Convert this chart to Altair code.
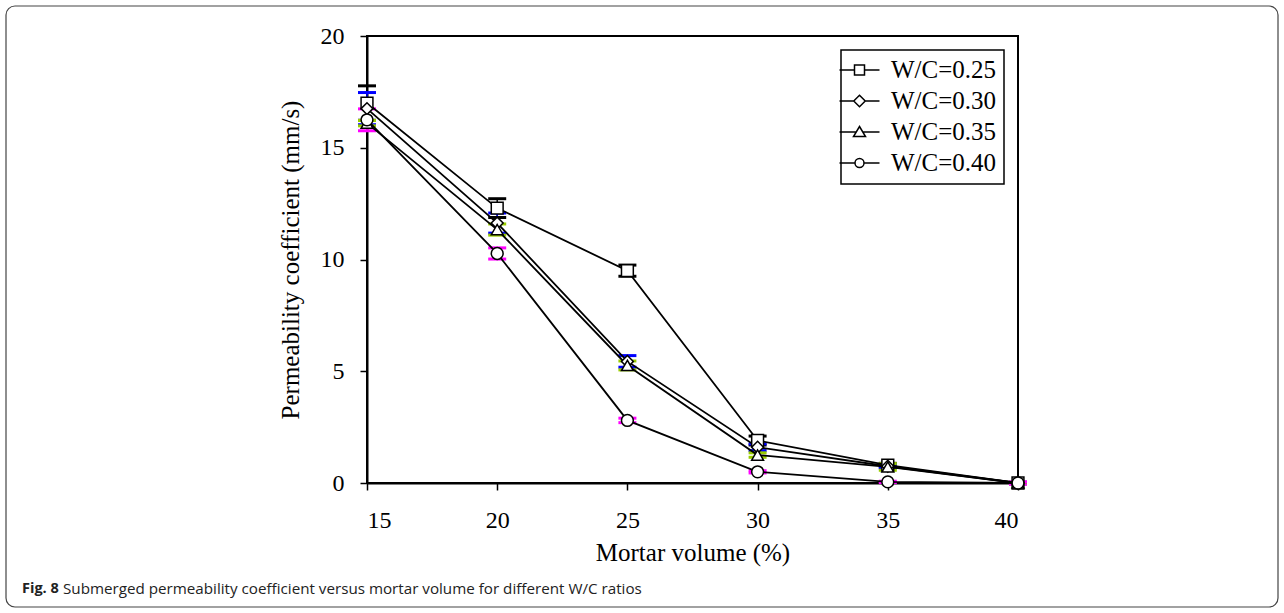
import altair as alt
import pandas as pd

mortar_volume = [15, 20, 25, 30, 35, 40]
series_names = ["W/C=0.25", "W/C=0.30", "W/C=0.35", "W/C=0.40"]

k_025 = [17.0, 12.3, 9.5, 1.9, 0.8, 0.0]
k_030 = [16.75, 11.63, 5.44, 1.6, 0.75, 0.0]
k_035 = [16.1, 11.34, 5.26, 1.25, 0.72, 0.0]
k_040 = [16.25, 10.27, 2.8, 0.5, 0.05, 0.0]

e_025 = [0.77, 0.42, 0.25, 0.2, 0.08, 0.03]
e_030 = [0.72, 0.45, 0.26, 0.15, 0.08, 0.03]
e_035 = [0.12, 0.25, 0.2, 0.1, 0.15, 0.03]
e_040 = [0.49, 0.25, 0.1, 0.05, 0.03, 0.05]

bar_colors = ["#000000", "#0000FF", "#99CC00", "#FF00FF"]
point_shapes = ["square", "diamond", "triangle-up", "circle"]
legend_shapes = [
    "M-5,0H-2M0,0H3M-2,-1H0V1H-2Z",
    "M-5,0H-2.15M0.15,0H3M-1,-1.15L0.15,0L-1,1.15L-2.15,0Z",
    "M-5,0H-1.7M-0.3,0H3M-1,-1.1L0.2,0.9H-2.2Z",
    "M-5,0H-1.9M-0.1,0H3M-0.1,0A0.9,0.9 0 1,1 -1.9,0A0.9,0.9 0 1,1 -0.1,0Z",
]

rows = []
for name, ks, es in zip(series_names, [k_025, k_030, k_035, k_040], [e_025, e_030, e_035, e_040]):
    for xv, kv, ev in zip(mortar_volume, ks, es):
        rows.append({"series": name, "x": xv, "k": kv, "lo": kv - ev, "hi": kv + ev})
df = pd.DataFrame(rows)

FONT = "Liberation Serif"

xs = alt.Scale(domain=[15, 40], nice=False)
ys = alt.Scale(domain=[0, 20], nice=False)
color_scale = alt.Scale(domain=series_names, range=bar_colors)

x_enc = alt.X("x:Q", scale=xs, title="Mortar volume (%)",
              axis=alt.Axis(values=mortar_volume, grid=False, labelFont=FONT, labelFontSize=24,
                            titleFont=FONT, titleFontSize=25, titleFontWeight="normal",
                            domainColor="black", domainWidth=2, tickColor="black", tickWidth=1.5,
                            tickSize=7, labelColor="black", titleColor="black",
                            labelPadding=18, titlePadding=8))
y_enc = alt.Y("k:Q", scale=ys, title="Permeability coefficient (mm/s)",
              axis=alt.Axis(values=[0, 5, 10, 15, 20], grid=False, labelFont=FONT, labelFontSize=24,
                            titleFont=FONT, titleFontSize=25, titleFontWeight="normal",
                            domainColor="black", domainWidth=2, tickColor="black", tickWidth=1.5,
                            tickSize=7, labelColor="black", titleColor="black",
                            labelPadding=16, titlePadding=17))

base = alt.Chart(df)

whisker = base.mark_rule(strokeWidth=1.5).encode(
    x=x_enc, y=alt.Y("lo:Q", scale=ys), y2="hi:Q",
    color=alt.Color("series:N", scale=color_scale, legend=None))
cap_lo = base.mark_rule(strokeWidth=3, xOffset=-9, x2Offset=9).encode(
    x=alt.X("x:Q", scale=xs), x2="x:Q", y=alt.Y("lo:Q", scale=ys),
    color=alt.Color("series:N", scale=color_scale, legend=None))
cap_hi = base.mark_rule(strokeWidth=3, xOffset=-9, x2Offset=9).encode(
    x=alt.X("x:Q", scale=xs), x2="x:Q", y=alt.Y("hi:Q", scale=ys),
    color=alt.Color("series:N", scale=color_scale, legend=None))

lines = base.mark_line(color="black", strokeWidth=1.8).encode(
    x=x_enc, y=y_enc, detail="series:N")

points = base.mark_point(filled=True, fill="white", stroke="black", strokeWidth=1.5,
                         opacity=1, size=140).encode(
    x=alt.X("x:Q", scale=xs), y=alt.Y("k:Q", scale=ys),
    shape=alt.Shape("series:N", scale=alt.Scale(domain=series_names, range=point_shapes), legend=None))

# legend-only layer: no marks drawn (empty after filter), shape scale carries custom legend symbols
legend_layer = base.transform_filter("datum.x < 0").mark_point(
    filled=False, color="black", stroke="black", strokeWidth=1.5, opacity=1, size=100).encode(
    x=alt.X("x:Q", scale=xs), y=alt.Y("k:Q", scale=ys),
    shape=alt.Shape("series:N", scale=alt.Scale(domain=series_names, range=legend_shapes),
                    legend=alt.Legend(title=None, orient="none", legendX=474, legendY=14,
                                      strokeColor="black", fillColor="white", padding=7.5,
                                      symbolOffset=3.5, labelOffset=14, rowPadding=5,
                                      labelFont=FONT, labelFontSize=25, labelColor="black",
                                      symbolSize=100, labelLimit=300, symbolOpacity=1,
                                      symbolStrokeColor="black", symbolStrokeWidth=1.5)))

frame_df = pd.DataFrame({"a": [0]})
border = alt.Chart(frame_df).mark_rect(fill=None, stroke="#444444", strokeWidth=1.2, cornerRadius=9).encode(
    x=alt.value(-361), x2=alt.value(911), y=alt.value(-30), y2=alt.value(571))
cap1 = alt.Chart(frame_df).mark_text(text="Fig. 8", font="Open Sans", fontSize=14.5, fontWeight="bold",
                                     align="left", baseline="middle", color="#222222").encode(
    x=alt.value(-345), y=alt.value(553))
cap2 = alt.Chart(frame_df).mark_text(
    text="Submerged permeability coefficient versus mortar volume for different W/C ratios",
    font="Open Sans", fontSize=15.2, align="left", baseline="middle", color="#222222").encode(
    x=alt.value(-304), y=alt.value(553))

chart = alt.layer(border, whisker, cap_lo, cap_hi, lines, points, legend_layer, cap1, cap2).resolve_scale(
    shape="independent").resolve_legend(shape="independent").properties(
    width=651, height=447,
    autosize=alt.AutoSizeParams(type="none"),
    padding={"left": 367, "top": 36, "right": 266, "bottom": 130},
    background="white",
).configure_view(stroke="black", strokeWidth=2).configure_legend(strokeWidth=1.5)

chart.save("out.html", embed_options={"renderer": "svg", "actions": False})
